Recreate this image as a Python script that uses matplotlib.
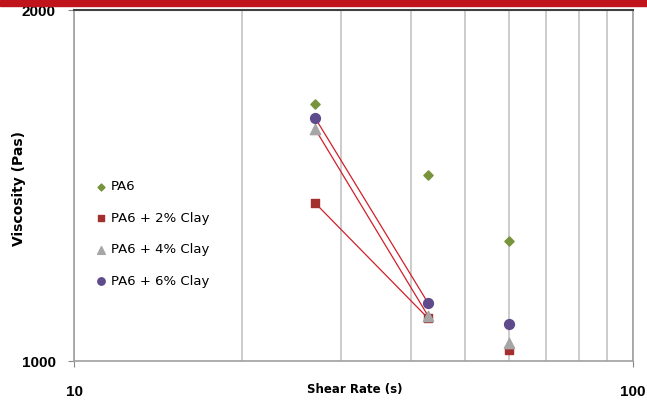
import numpy as np
import matplotlib.pyplot as plt
from matplotlib.ticker import FixedLocator, NullFormatter

# ---- Data ----
shear_rate = [27, 43, 60]
visc_pa6 = [1661, 1444, 1267]
visc_2clay = [1366, 1088, 1022]
visc_4clay = [1581, 1093, 1036]
visc_6clay = [1616, 1121, 1076]

labels = ["PA6", "PA6 + 2% Clay", "PA6 + 4% Clay", "PA6 + 6% Clay"]

# ---- Plot ----
fig = plt.figure(figsize=(6.47, 4.0), dpi=100)
ax = fig.add_axes([0.1144, 0.0975, 0.8640, 0.8775])

# red band across the top of the slide
fig.patches.append(plt.Rectangle((0, 0.985), 1, 0.015, transform=fig.transFigure,
                                 color="#c0141c", zorder=0))

ax.set_xscale("log")
ax.set_yscale("log")
ax.set_xlim(10, 100)
ax.set_ylim(1000, 2000)

# red connector lines between first two points
for series in (visc_2clay, visc_4clay, visc_6clay):
    ax.plot(shear_rate[:2], series[:2], color="#d0202a", lw=0.9, zorder=2)

ax.scatter(shear_rate, visc_pa6, marker="D", s=22, color="#77933c", label=labels[0], zorder=3)
ax.scatter(shear_rate, visc_2clay, marker="s", s=40, color="#a3302e", label=labels[1], zorder=3)
ax.scatter(shear_rate, visc_4clay, marker="^", s=55, color="#a6a6a6", label=labels[2], zorder=3)
ax.scatter(shear_rate, visc_6clay, marker="o", s=50, color="#5f4a8b", label=labels[3], zorder=4)

# ---- Ticks / grid ----
ax.xaxis.set_major_locator(FixedLocator([10, 100]))
ax.xaxis.set_minor_locator(FixedLocator([20, 30, 40, 50, 60, 70, 80, 90]))
ax.xaxis.set_minor_formatter(NullFormatter())
ax.set_xticklabels(["10", "100"])
ax.yaxis.set_major_locator(FixedLocator([1000, 2000]))
ax.yaxis.set_minor_locator(FixedLocator([]))
ax.set_yticklabels(["1000", "2000"])

ax.grid(True, which="both", axis="x", color="#c8c8c8", lw=1.3)
ax.tick_params(axis="x", which="major", length=4, color="#888888", pad=13,
               labelsize=11)
ax.tick_params(axis="x", which="minor", length=0)
ax.tick_params(axis="y", length=4, color="#888888", pad=9, labelsize=11)
for lab in ax.get_xticklabels() + ax.get_yticklabels():
    lab.set_fontweight("bold")
    lab.set_family("Liberation Sans")

for side in ("left", "bottom", "right"):
    ax.spines[side].set_color("#a0a0a0")
    ax.spines[side].set_linewidth(1.2)
ax.spines["top"].set_color("#404040")
ax.spines["top"].set_linewidth(1.5)

fig.text(355 / 647, 1 - 390 / 400, "Shear Rate (s)", fontsize=8.5,
         fontweight="bold", ha="center", va="center")
fig.text(19 / 647, 1 - 188 / 400, "Viscosity (Pas)", fontsize=10,
         fontweight="bold", ha="center", va="center", rotation=90)

ax.legend(loc="upper left", bbox_to_anchor=(0.03, 0.53), frameon=False,
          fontsize=9.5, handlelength=0.8, handletextpad=0.3, labelspacing=1.4,
          markerscale=0.75, borderaxespad=0)

plt.savefig("out.png", dpi=100)
